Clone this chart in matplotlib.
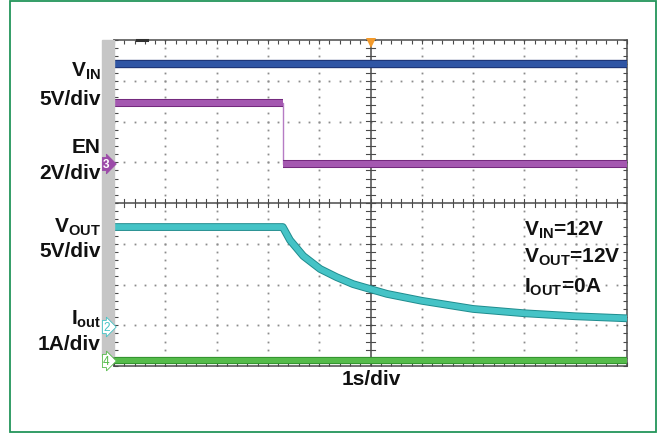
import numpy as np
import matplotlib
matplotlib.use("Agg")
import matplotlib.pyplot as plt
import matplotlib.patheffects as pe
from matplotlib.patches import Rectangle

plt.rcParams["font.family"] = ["Liberation Sans", "DejaVu Sans"]
plt.rcParams["mathtext.fontset"] = "custom"
plt.rcParams["mathtext.rm"] = "Liberation Sans"
plt.rcParams["mathtext.bf"] = "Liberation Sans:bold"

# ---- scope data (time in s, 1 s/div) ----
t_vin = [0.0, 10.0]
vin = [12.1, 12.1]

t_en = [0.0, 3.29, 3.29, 10.0]
en = [3.0, 3.0, 0.0, 0.0]

t_vout = [0.0, 3.29, 3.43, 3.69, 4.02, 4.34, 4.66, 4.99, 5.32, 6.0, 7.0, 8.0, 9.0, 10.0]
vout = [12.25, 12.25, 10.65, 8.7, 7.1, 6.1, 5.25, 4.65, 4.05, 3.2, 2.2, 1.67, 1.3, 1.05]

t_iout = [0.0, 10.0]
iout = [0.0, 0.0]

# channel settings: (units per div, ground position in div)
CH_VIN = (5.0, 1.0)
CH_EN = (2.0, 0.96)
CH_VOUT = (5.0, -3.04)
CH_IOUT = (1.0, -3.85)

W, H = 660, 435
GRID = "#8c8c8c"
FRAME = "#4a4a4a"


def px(x, y):
    return x / W, 1 - y / H


def to_div(vals, ch):
    scale, gnd = ch
    return [v / scale + gnd for v in vals]


fig = plt.figure(figsize=(W / 100, H / 100), dpi=100)
ax = fig.add_axes([114 / W, 1 - 367 / H, 513 / W, 326 / H])
ax.set_xlim(0, 10)
ax.set_ylim(-4, 4)

# graticule
ax.set_xticks(np.arange(0, 10.01, 0.2))
ax.set_yticks(np.arange(-4, 4.01, 0.2))
ax.tick_params(direction="in", length=3, width=0.8, color=FRAME, top=True, right=True,
               labelbottom=False, labelleft=False)
for s in ax.spines.values():
    s.set_color(FRAME)
    s.set_linewidth(1.1)

for xv in range(1, 10):
    if xv == 5:
        continue
    yy = np.linspace(-4, 4, 41)
    ax.plot(np.full_like(yy, xv), yy, ls="none", marker="s", ms=1.3, mew=0, color=GRID, zorder=1)
for yv in range(-3, 4):
    if yv == 0:
        continue
    xx = np.linspace(0, 10, 51)
    ax.plot(xx, np.full_like(xx, yv), ls="none", marker="s", ms=1.3, mew=0, color=GRID, zorder=1)

ax.axvline(5, color=FRAME, lw=1.1, zorder=1)
ax.axhline(0, color=FRAME, lw=1.1, zorder=1)
for yv in np.arange(-4, 4.01, 0.2):
    ax.plot([4.92, 5.08], [yv, yv], color=FRAME, lw=0.8, zorder=1)
for xv in np.arange(0, 10.01, 0.2):
    ax.plot([xv, xv], [-0.09, 0.09], color=FRAME, lw=0.8, zorder=1)


def trace(x, y, core, edge, lw=3.4):
    ax.plot(x, y, color=core, lw=lw, solid_capstyle="butt", solid_joinstyle="round", zorder=3,
            path_effects=[pe.Stroke(linewidth=lw + 1.4, foreground=edge), pe.Normal()])


trace(t_vin, to_div(vin, CH_VIN), "#2f55a4", "#1b2f6e", lw=4.6)

en_d = to_div(en, CH_EN)
ax.plot(t_en, en_d, color="#b67cc4", lw=1.0, zorder=2)
for i in range(len(t_en) - 1):
    if en[i] == en[i + 1]:
        trace([t_en[i], t_en[i + 1]], [en_d[i], en_d[i + 1]], "#a458b0", "#72287c", lw=4.4)

trace(t_vout, to_div(vout, CH_VOUT), "#45c3c6", "#1f8c8e", lw=4.2)
trace(t_iout, to_div(iout, CH_IOUT), "#55bb4a", "#2f8f2c", lw=3.8)

# trigger marker and horizontal position mark
ax.plot([5], [3.93], marker="v", ms=7, color="#f39a2b", mew=0, clip_on=False, zorder=5)
ax.plot([0.45, 0.65], [4, 4], color="#303030", lw=2.2, clip_on=False, zorder=5)

# left channel strip and markers
fig.patches.append(Rectangle(px(102, 357), 12 / W, 316 / H, transform=fig.transFigure,
                             color="#c6c6c6", zorder=0))
mk = dict(fontsize=8.5, va="center", ha="left")
fig.text(*px(103, 165), "3", color="white", weight="bold", **mk,
         bbox=dict(boxstyle="rarrow,pad=0.05", fc="#9b4aa8", ec="#9b4aa8", lw=0.6))
fig.text(*px(103, 328), "2", color="#45c3c6", **mk,
         bbox=dict(boxstyle="rarrow,pad=0.05", fc="white", ec="#45c3c6", lw=0.6))
fig.text(*px(103, 362), "4", color="#55bb4a", **mk,
         bbox=dict(boxstyle="rarrow,pad=0.05", fc="white", ec="#55bb4a", lw=0.6))

# labels
lab = dict(fontsize=15, weight="bold", color="#111111", va="baseline")
left = [
    (77, r"$\mathbf{V_{IN}}$"),
    (105, "5V/div"),
    (153, "EN"),
    (179, "2V/div"),
    (233, r"$\mathbf{V_{OUT}}$"),
    (257, "5V/div"),
    (325, r"$\mathbf{I_{out}}$"),
    (350, "1A/div"),
]
for y, s in left:
    fig.text(*px(101, y), s, ha="right", **lab)

right = [
    (236, r"$\mathbf{V_{IN}}$=12V"),
    (263, r"$\mathbf{V_{OUT}}$=12V"),
    (293, r"$\mathbf{I_{OUT}}$=0A"),
]
for y, s in right:
    fig.text(*px(524, y), s, ha="left", **lab)

fig.text(*px(371, 385), "1s/div", ha="center", **lab)

# outer frame
fig.patches.append(Rectangle(px(10, 433), 646 / W, 431 / H, transform=fig.transFigure,
                             fill=False, ec="#23955a", lw=1.3, zorder=10))

fig.savefig("out.png", dpi=100, facecolor="white")
